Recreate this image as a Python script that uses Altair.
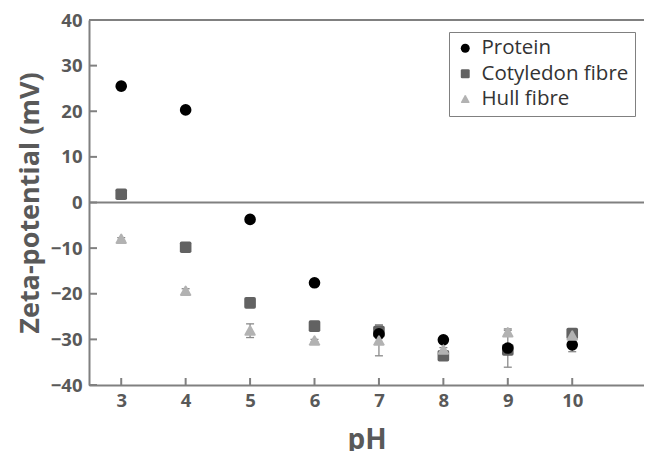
import altair as alt
import pandas as pd

ph = [3, 4, 5, 6, 7, 8, 9, 10]
series = ["Protein", "Cotyledon fibre", "Hull fibre"]
protein = [25.5, 20.3, -3.7, -17.6, -28.8, -30.1, -31.9, -31.2]
protein_err = [0.8, 0.3, 0.3, 0.3, 0.5, 0.3, 4.2, 1.5]
cotyledon = [1.8, -9.8, -22.0, -27.1, -28.3, -33.6, -32.3, -28.7]
cotyledon_err = [0.3, 0.3, 0.3, 0.5, 1.5, 0.5, 0.5, 0.5]
hull = [-8.0, -19.4, -28.1, -30.3, -30.3, -32.3, -28.5, -29.2]
hull_err = [0.3, 0.5, 1.5, 0.3, 3.3, 0.5, 0.5, 0.5]
x_ticks = [3, 4, 5, 6, 7, 8, 9, 10]
y_ticks = [-40, -30, -20, -10, 0, 10, 20, 30, 40]
colors = ["#000000", "#626262", "#b2b2b2"]
rounded_square = ("M-0.7,-1 L0.7,-1 Q1,-1 1,-0.7 L1,0.7 Q1,1 0.7,1 L-0.7,1 "
                  "Q-1,1 -1,0.7 L-1,-0.7 Q-1,-1 -0.7,-1 Z")
rounded_triangle = ("M-0.15,-0.85 Q0,-1.05 0.15,-0.85 L0.95,0.6 Q1.05,0.85 0.8,0.85 "
                    "L-0.8,0.85 Q-1.05,0.85 -0.95,0.6 Z")
shapes = ["circle", rounded_square, rounded_triangle]

rows = []
for name, vals, errs in [("Cotyledon fibre", cotyledon, cotyledon_err),
                         ("Protein", protein, protein_err),
                         ("Hull fibre", hull, hull_err)]:
    for p, v, e in zip(ph, vals, errs):
        rows.append({"ph": p, "z": v, "lo": v - e, "hi": v + e, "series": name})
df = pd.DataFrame(rows)

XT = "pH"
YT = "Zeta-potential (mV)"
xs = alt.Scale(domain=[2.5, 11.114], nice=False, zero=False)
ys = alt.Scale(domain=[-40, 40], nice=False, zero=False)
xa = alt.Axis(values=x_ticks, format="d", labelPadding=6, titleFontSize=28,
              titleBaseline="alphabetic", titleY=63)
ya = alt.Axis(values=y_ticks, format="d", labelPadding=7, titleFontSize=27, titlePadding=6)

def X(field):
    return alt.X(field, type="quantitative", scale=xs, title=XT, axis=xa)

def Y(field):
    return alt.Y(field, type="quantitative", scale=ys, title=YT, axis=ya)

axis_grey = "#808080"

lines = alt.Chart(pd.DataFrame({"v": [0, 40]})).mark_rule(
    color=axis_grey, strokeWidth=2).encode(y=Y("v"))

yt = alt.Chart(pd.DataFrame({"v": y_ticks})).mark_rule(
    color=axis_grey, strokeWidth=2).encode(
    y=Y("v"), x=alt.value(0), x2=alt.value(8))

xt = alt.Chart(pd.DataFrame({"v": x_ticks})).mark_rule(
    color=axis_grey, strokeWidth=2).encode(
    x=X("v"), y=alt.value(365), y2=alt.value(358))

err_base = alt.Chart(df)
err_line = err_base.mark_rule(color="#8a8a8a", strokeWidth=1.3).encode(
    x=X("ph"), y=Y("lo"), y2="hi")
cap_lo = err_base.mark_rule(color="#8a8a8a", strokeWidth=1.3, xOffset=-4, x2Offset=4).encode(
    x=X("ph"), x2="ph", y=Y("lo"))
cap_hi = err_base.mark_rule(color="#8a8a8a", strokeWidth=1.3, xOffset=-4, x2Offset=4).encode(
    x=X("ph"), x2="ph", y=Y("hi"))

leg = alt.Legend(title=None, orient="none", legendX=360, legendY=12,
                 strokeColor=axis_grey, fillColor="white", padding=6,
                 labelFont="Open Sans", labelFontSize=20.5, labelColor="#333333",
                 symbolSize=80, symbolStrokeWidth=0, rowPadding=4.5, labelOffset=6,
                 symbolOpacity=1)

points = alt.Chart(df).mark_point(filled=True, opacity=1, size=135, strokeWidth=0).encode(
    x=X("ph"), y=Y("z"),
    color=alt.Color("series:N", scale=alt.Scale(domain=series, range=colors), legend=leg),
    shape=alt.Shape("series:N", scale=alt.Scale(domain=series, range=shapes), legend=leg),
)

chart = alt.layer(lines, yt, xt, err_line, cap_lo, cap_hi, points).properties(
    width=555, height=365,
    autosize=alt.AutoSizeParams(type="none"),
    padding={"left": 81, "top": 12, "right": 0, "bottom": 72},
).configure_view(stroke=None).configure_axis(
    grid=False, ticks=False, domainColor=axis_grey, domainWidth=2,
    labelFont="Open Sans", labelFontWeight="bold", labelFontSize=18.5, labelColor="#595959",
    titleFont="Open Sans", titleFontWeight="bold", titleColor="#595959",
)

chart.save("out.html", embed_options={"renderer": "svg", "actions": False})
